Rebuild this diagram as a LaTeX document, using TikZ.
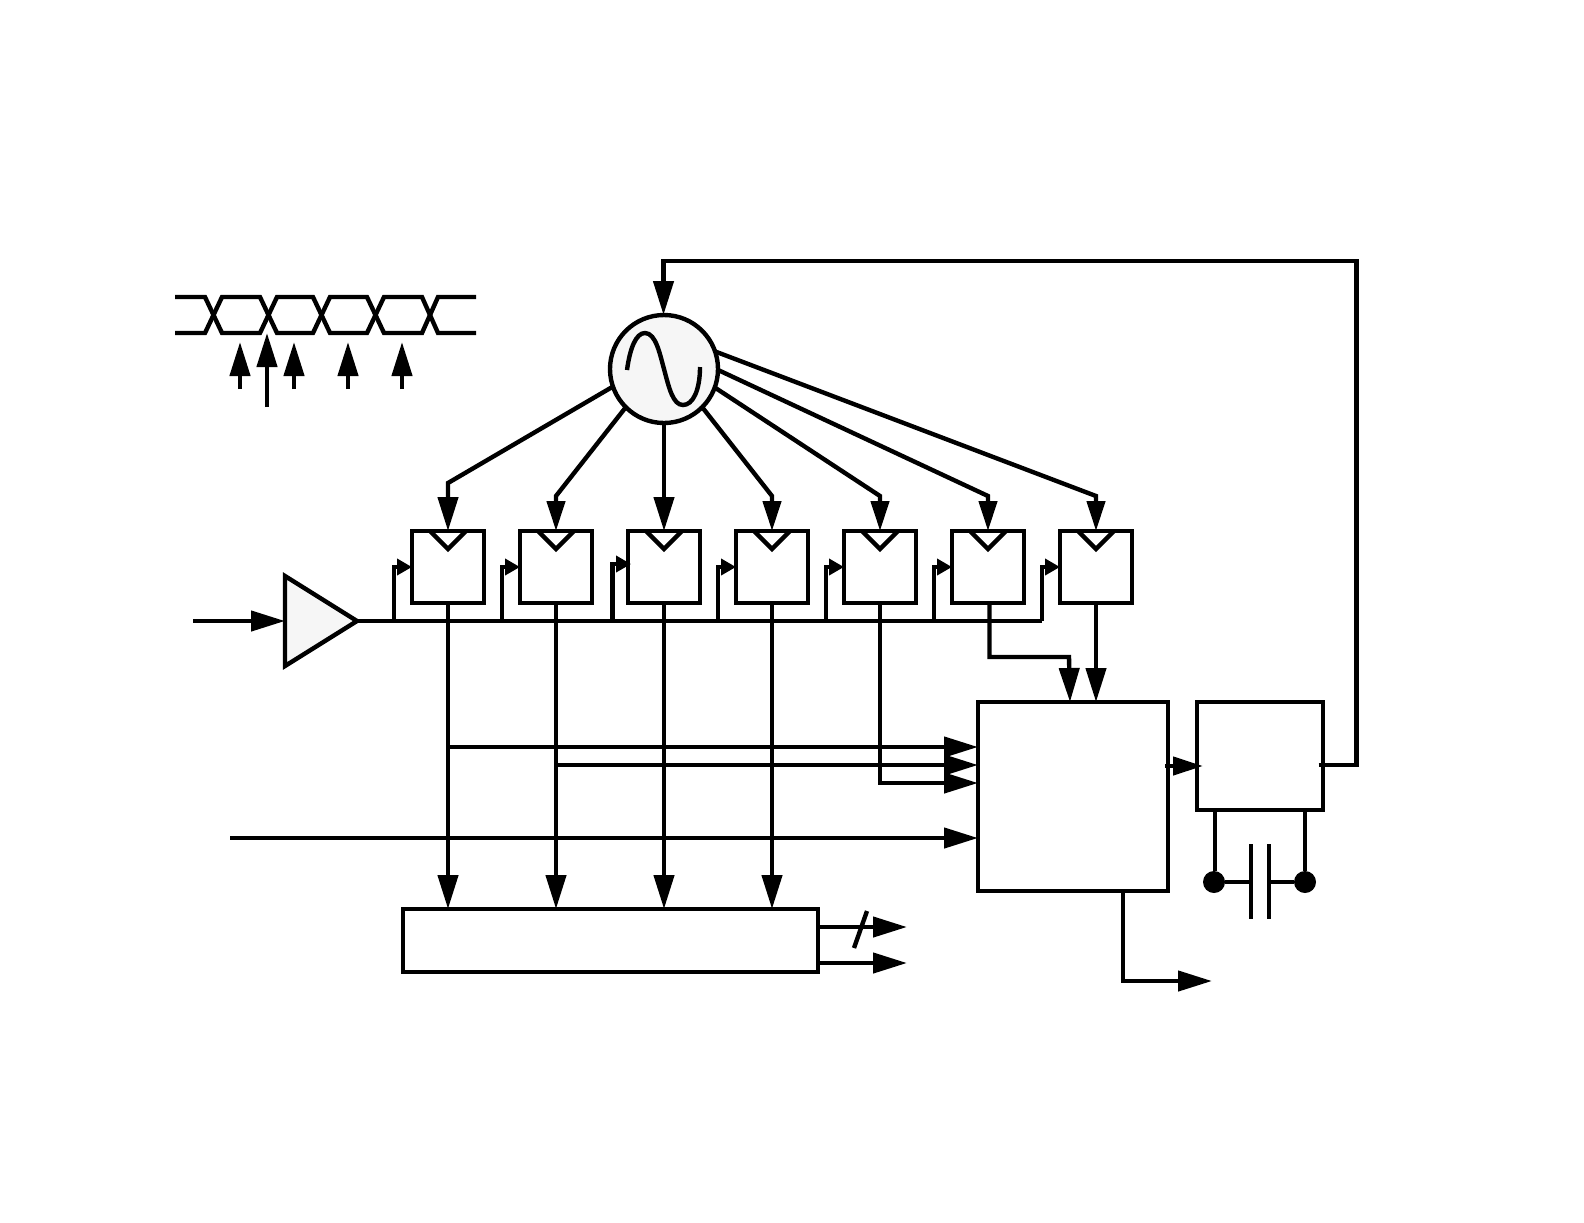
\documentclass[tikz,border=0pt]{standalone}
\usetikzlibrary{arrows.meta,calc,shapes.geometric}
\definecolor{softgray}{HTML}{F6F6F6}
\tikzset{
  wire/.style={draw=black,line width=2.2pt,line join=miter},
  big/.style={wire,-{Triangle[length=17pt,width=10pt]}},
  mid/.style={wire,-{Triangle[length=15pt,width=9pt]}},
  tiny/.style={wire,-{Triangle[length=7.5pt,width=8pt]}},
  ffbox/.style={wire,rectangle,inner sep=0pt,outer sep=0pt,minimum width=36pt,minimum height=36pt},
  block/.style={wire,rectangle,inner sep=0pt,outer sep=0pt},
  dot/.style={circle,fill=black,inner sep=0pt,outer sep=0pt,minimum size=11pt},
}
\begin{document}
\begin{tikzpicture}[x=0.5pt,y=-0.5pt]
\useasboundingbox (0,0) rectangle (1584,1222);
\fill[white] (0,0) rectangle (1584,1222);

% eye diagram
\draw[wire] (175,297) -- (205,297) -- (222,333) -- (260,333) -- (277,297) -- (313,297) -- (330,333)
  -- (367,333) -- (384,297) -- (422,297) -- (438,333) -- (476,333);
\draw[wire] (175,333) -- (205,333) -- (222,297) -- (260,297) -- (277,333) -- (313,333) -- (330,297)
  -- (367,297) -- (384,333) -- (422,333) -- (438,297) -- (476,297);

% sampling arrows
\coordinate (sa1) at (240,389); \coordinate (sb1) at (240,342);
\coordinate (sa2) at (267,407); \coordinate (sb2) at (267,333);
\coordinate (sa3) at (294,389); \coordinate (sb3) at (294,342);
\coordinate (sa4) at (348,389); \coordinate (sb4) at (348,342);
\coordinate (sa5) at (402,389); \coordinate (sb5) at (402,342);
\foreach \i in {1,...,5} \draw[big] (sa\i) -- (sb\i);

% amplifier
\node[wire,fill=softgray,isosceles triangle,isosceles triangle stretches,inner sep=0pt,outer sep=0pt,
  minimum width=45pt,minimum height=36pt,anchor=apex] (amp) at (357,621) {};
\coordinate (ampin) at (193,621);
\draw[big] (ampin) -- (amp.west |- ampin);

% oscillator
\node[wire,circle,fill=softgray,inner sep=0pt,outer sep=0pt,minimum size=54pt] (vco) at (664,369) {};
\draw[wire] (627,370) .. controls (630,348) and (636,333) .. (645,333)
  .. controls (656,333) and (660,355) .. (664,369)
  .. controls (669,388) and (673,405) .. (683,405)
  .. controls (693,405) and (700,390) .. (700,367);

% flip-flops
\foreach \i/\cx in {1/448,2/556,3/664,4/772,5/880,6/988,7/1096}{
  \node[ffbox] (ff\i) at (\cx,567) {};
  \draw[wire] ($(ff\i.north)+(-18,0)$) -- ($(ff\i.north)+(0,18)$) -- ($(ff\i.north)+(18,0)$);
}

% blocks
\node[block,minimum width=207.5pt,minimum height=31.5pt] (reg) at (610.5,940.5) {};
\node[block,minimum width=95pt,minimum height=94.5pt] (main) at (1073,796.5) {};
\node[block,minimum width=63pt,minimum height=54pt] (filt) at (1260,756) {};

% oscillator rays
\coordinate (e1) at (448,483);
\coordinate (e2) at (556,496);
\coordinate (e4) at (772,496);
\coordinate (e5) at (880,496);
\coordinate (e6) at (988,496);
\coordinate (e7) at (1096,496);
\draw[big] (vco.199) -- (e1) -- (ff1.north);
\draw[mid] (vco.225) -- (e2) -- (ff2.north);
\draw[big] (vco.south) -- (ff3.north);
\draw[mid] (vco.-45) -- (e4) -- (ff4.north);
\draw[mid] (vco.-20) -- (e5) -- (ff5.north);
\draw[mid] (vco.-1) -- (e6) -- (ff6.north);
\draw[mid] (vco.19) -- (e7) -- (ff7.north);

% data bus
\coordinate (s1) at (394,621);
\coordinate (s2) at (502,621);
\coordinate (s3) at (612.5,621);
\coordinate (s4) at (718,621);
\coordinate (s5) at (826,621);
\coordinate (s6) at (934,621);
\coordinate (s7) at (1042,621);
\draw[wire] (amp.apex) -- (s7);
\foreach \i in {1,2,4,5,6,7} \draw[tiny] (s\i) |- (ff\i.west);
\coordinate (t3) at ($(ff3.west)+(3,-3)$);
\draw[tiny] (s3) |- (t3);

% outputs to register
\foreach \i in {1,2,3,4} \draw[big] (ff\i.south) -- (ff\i.south |- reg.north);

% inputs to main block
\coordinate (tap1) at (448,747);
\coordinate (tap2) at (555,765);
\coordinate (in3) at (978,783);
\coordinate (src) at (230,838);
\draw[big] (tap1) -- (main.west |- tap1);
\draw[big] (tap2) -- (main.west |- tap2);
\draw[big] (ff5.south) |- (in3);
\draw[big] (src) -- (main.west |- src);
\coordinate (k0) at (989.5,603);
\coordinate (k1) at (989.5,657);
\coordinate (k2) at (1069,657);
\coordinate (k3) at (1070,702);
\draw[big] (k0) -- (k1) -- (k2) -- (k3);
\draw[big] (ff7.south) -- (ff7.south |- main.north);

% main to filter
\coordinate (mf1) at (1165,766);
\coordinate (mf2) at (1203,766);
\draw[wire,-{Triangle[length=15pt,width=9pt]}] (mf1) -- (mf2);

% feedback
\coordinate (fb0) at (1318.5,765);
\coordinate (fb1) at (1356.5,765);
\coordinate (fb2) at (1356.5,261);
\coordinate (fb3) at (663.5,261);
\draw[big] (fb0) -- (fb1) -- (fb2) -- (fb3) -- (vco.north -| fb3);

% capacitor
\node[dot] (d1) at (1214,882) {};
\node[dot] (d2) at (1305,882) {};
\coordinate (f1) at (1215,810);
\coordinate (f2) at (1305,810);
\draw[wire] (f1) -- (d1.north -| f1);
\draw[wire] (f2) -- (d2.north);
\coordinate (p1a) at (1251,844); \coordinate (p1b) at (1251,919);
\coordinate (p2a) at (1269,844); \coordinate (p2b) at (1269,919);
\draw[wire] (p1a) -- (p1b);
\draw[wire] (p2a) -- (p2b);
\draw[wire] (d1) -- (d1 -| p1a);
\draw[wire] (d2) -- (d2 -| p2a);

% register outputs
\coordinate (r1) at (816,927); \coordinate (r1e) at (907,927);
\coordinate (r2) at (816,963); \coordinate (r2e) at (907,963);
\draw[big] (r1) -- (r1e);
\draw[big] (r2) -- (r2e);
\coordinate (sl1) at (854,948); \coordinate (sl2) at (867,911);
\draw[wire] (sl1) -- (sl2);

% main output
\coordinate (m1) at (1123,981);
\coordinate (m2) at (1212,981);
\draw[big] (m1 |- main.south) -- (m1) -- (m2);
\end{tikzpicture}
\end{document}
